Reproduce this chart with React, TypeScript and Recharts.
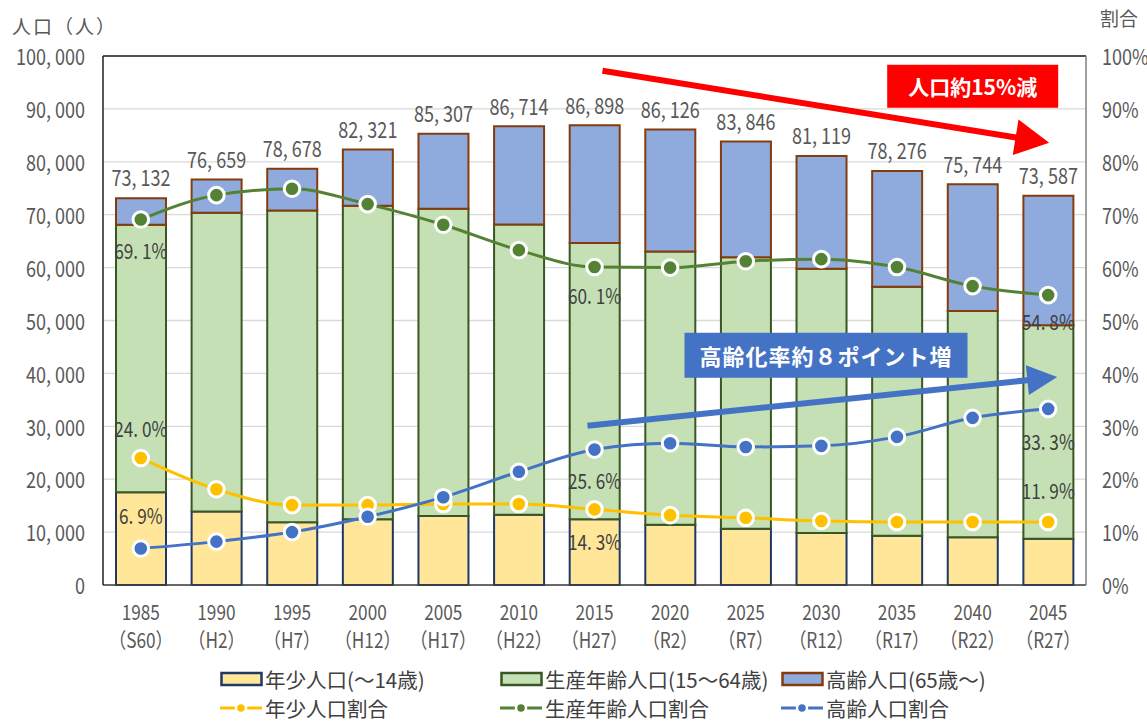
import React from 'react';
import { ComposedChart, Bar, Line, XAxis, YAxis, CartesianGrid, Legend, LabelList, ReferenceLine } from 'recharts';

const years = ['1985', '1990', '1995', '2000', '2005', '2010', '2015', '2020', '2025', '2030', '2035', '2040', '2045'];
const eras = ['（S60）', '（H2）', '（H7）', '（H12）', '（H17）', '（H22）', '（H27）', '（R2）', '（R7）', '（R12）', '（R17）', '（R22）', '（R27）'];

// 人口（人）
const totalPop = [73132, 76659, 78678, 82321, 85307, 86714, 86898, 86126, 83846, 81119, 78276, 75744, 73587];
const youngPop = [17552, 13875, 11880, 12430, 13052, 13267, 12426, 11369, 10648, 9815, 9315, 9014, 8757];
const workingPop = [50534, 56498, 58930, 59271, 58094, 54890, 52226, 51676, 51314, 49969, 47044, 42795, 40326];
const elderlyPop = [5046, 6286, 7868, 10620, 14161, 18557, 22246, 23081, 21884, 21335, 21917, 23935, 24504];

// 割合（%）
const youngRate = [24.0, 18.1, 15.1, 15.1, 15.3, 15.3, 14.3, 13.2, 12.7, 12.1, 11.9, 11.9, 11.9];
const workingRate = [69.1, 73.7, 74.9, 72.0, 68.1, 63.3, 60.1, 60.0, 61.2, 61.6, 60.1, 56.5, 54.8];
const elderlyRate = [6.9, 8.2, 10.0, 12.9, 16.6, 21.4, 25.6, 26.8, 26.1, 26.3, 28.0, 31.6, 33.3];

const leftTicks = [0, 10000, 20000, 30000, 40000, 50000, 60000, 70000, 80000, 90000, 100000];
const rightTicks = [0, 10, 20, 30, 40, 50, 60, 70, 80, 90, 100];
const labeledIdx = [0, 6, 12];

const data = years.map((year, i) => ({
  year,
  young: youngPop[i],
  working: workingPop[i],
  elderly: elderlyPop[i],
  youngRate: youngRate[i],
  workingRate: workingRate[i],
  elderlyRate: elderlyRate[i],
}));

const JP_FONT = "'Noto Sans CJK JP', sans-serif";

const C = {
  youngFill: '#FFE699', youngStroke: '#203864',
  workFill: '#C5E0B4', workStroke: '#385723',
  oldFill: '#8FAADC', oldStroke: '#843C0C',
  youngLine: '#FFC000', workLine: '#548235', oldLine: '#4472C4',
};

const fmtNum = (v: number) => v.toLocaleString('en-US').replace(',', ', ');
const fmtPct = (v: number) => v.toFixed(1).replace('.', '. ') + '%';

// condensed-looking text (the original uses a narrow Japanese UI font)
const NarrowText = ({ x, y, anchor = 'middle', size = 22, fill = '#595959', children }: any) => (
  <text transform={`translate(${x},${y}) scale(0.82,1)`} x={0} y={0} textAnchor={anchor}
    dominantBaseline="central" fill={fill} fontFamily={JP_FONT} fontSize={size}>
    {children}
  </text>
);

const XTick = (props: any) => {
  const { x, y, payload } = props;
  const i = years.indexOf(payload.value);
  return (
    <g>
      <NarrowText x={x} y={y + 26} size={21}>{payload.value}</NarrowText>
      <NarrowText x={x} y={y + 54} size={21}>{eras[i]}</NarrowText>
    </g>
  );
};

const YTickLeft = (props: any) => (
  <NarrowText x={props.x} y={props.y} anchor="end">{fmtNum(props.payload.value)}</NarrowText>
);
const YTickRight = (props: any) => (
  <NarrowText x={props.x} y={props.y} anchor="start">{`${props.payload.value}%`}</NarrowText>
);

const totalLabel = (props: any) => {
  const { x, y, width, index } = props;
  return <NarrowText x={x + width / 2} y={y - 21}>{fmtNum(totalPop[index])}</NarrowText>;
};

const rateLabel = (offsets: number[]) => (props: any) => {
  const { x, y, index, value } = props;
  const k = labeledIdx.indexOf(index);
  if (k < 0) return null;
  return <NarrowText x={x} y={y + offsets[k]} size={21} fill="#404040">{fmtPct(value)}</NarrowText>;
};

const arrowShape = (color: string, width: number, headLen: number, headHalf: number, dx1: number, dx2: number,
  box: { dx: number; dy: number; w: number; h: number; text: string; size: number; spacing: number }) => (props: any) => {
  const x1 = props.x1 + dx1;
  const y1 = props.y1;
  const x2 = props.x2 + dx2;
  const y2 = props.y2;
  const len = Math.hypot(x2 - x1, y2 - y1);
  const ux = (x2 - x1) / len;
  const uy = (y2 - y1) / len;
  const bx = x2 - ux * headLen;
  const by = y2 - uy * headLen;
  const pts = `${x2},${y2} ${bx - uy * headHalf},${by + ux * headHalf} ${bx + uy * headHalf},${by - ux * headHalf}`;
  const rx = (box.dx < 0 ? x2 : x1) + box.dx;
  const ry = (box.dx < 0 ? y2 : y1) + box.dy;
  return (
    <g>
      <line x1={x1} y1={y1} x2={bx + ux * 2} y2={by + uy * 2} stroke={color} strokeWidth={width} />
      <polygon points={pts} fill={color} />
      <rect x={rx} y={ry} width={box.w} height={box.h} fill={color} />
      <text x={rx + box.w / 2} y={ry + box.h / 2} textAnchor="middle" dominantBaseline="central"
        fill="#fff" fontWeight="bold" fontFamily={JP_FONT} fontSize={box.size} letterSpacing={box.spacing}>
        {box.text}
      </text>
    </g>
  );
};

const legendRows = [
  [
    { name: '年少人口(～14歳)', type: 'bar', fill: C.youngFill, stroke: C.youngStroke, left: 220 },
    { name: '生産年齢人口(15～64歳)', type: 'bar', fill: C.workFill, stroke: C.workStroke, left: 500 },
    { name: '高齢人口(65歳～)', type: 'bar', fill: C.oldFill, stroke: C.oldStroke, left: 781 },
  ],
  [
    { name: '年少人口割合', type: 'line', fill: C.youngLine, stroke: C.youngLine, left: 220 },
    { name: '生産年齢人口割合', type: 'line', fill: C.workLine, stroke: C.workLine, left: 500 },
    { name: '高齢人口割合', type: 'line', fill: C.oldLine, stroke: C.oldLine, left: 781 },
  ],
];

const LegendContent = () => (
  <div style={{ position: 'relative', width: 1147, height: 55, fontFamily: JP_FONT, fontSize: 20.5, color: '#404040', lineHeight: '26px' }}>
    {legendRows.map((row, r) =>
      row.map((item) => (
        <div key={item.name} style={{ position: 'absolute', left: item.left, top: r * 29, height: 26, display: 'flex', alignItems: 'center', whiteSpace: 'nowrap' }}>
          <svg width={44} height={20} style={{ marginRight: 1 }}>
            {item.type === 'bar' ? (
              <rect x={1.5} y={4} width={40} height={12} fill={item.fill} stroke={item.stroke} strokeWidth={2.5} />
            ) : (
              <g>
                <line x1={0} y1={10} x2={42} y2={10} stroke={item.stroke} strokeWidth={3} />
                <circle cx={21} cy={10} r={5} fill={item.fill} stroke="#fff" strokeWidth={2.5} />
              </g>
            )}
          </svg>
          <span>{item.name}</span>
        </div>
      ))
    )}
  </div>
);

export default function App() {
  return (
    <div style={{ position: 'absolute', left: 0, top: 0, width: 1147, height: 722, background: '#fff' }}>
      <ComposedChart width={1147} height={722} data={data} margin={{ top: 56, right: 0, left: 13, bottom: 77 }}>
        <CartesianGrid vertical={false} stroke="#d9d9d9" strokeWidth={1.3} yAxisId="left" />
        <XAxis dataKey="year" tick={<XTick />} tickLine={false} tickSize={0} tickMargin={0} height={60}
          axisLine={{ stroke: '#404040', strokeWidth: 1.5 }} interval={0} />
        <YAxis yAxisId="left" domain={[0, 100000]} ticks={leftTicks} width={90} tickLine={false} tickMargin={12}
          axisLine={{ stroke: '#202020', strokeWidth: 1.5 }} tick={<YTickLeft />}
          label={{
            content: () => (
              <text x={12} y={34} fill="#595959" fontFamily={JP_FONT} fontSize={19} letterSpacing={2}>人口（人）</text>
            ),
          }} />
        <YAxis yAxisId="right" orientation="right" domain={[0, 100]} ticks={rightTicks} width={61} tickLine={false} tickMargin={10}
          axisLine={{ stroke: '#7f7f7f', strokeWidth: 1.5 }} tick={<YTickRight />}
          label={{
            content: () => (
              <text x={1100} y={26} fill="#595959" fontFamily={JP_FONT} fontSize={19}>割合</text>
            ),
          }} />
        <ReferenceLine yAxisId="left" y={100000} stroke="#202020" strokeWidth={1.5} />
        <Legend layout="horizontal" verticalAlign="middle" align="center" content={<LegendContent />}
          wrapperStyle={{ top: 666, left: 0, width: 1147, height: 55 }} />

        <Bar yAxisId="left" dataKey="young" stackId="pop" barSize={50} fill={C.youngFill} stroke={C.youngStroke} strokeWidth={2} isAnimationActive={false} />
        <Bar yAxisId="left" dataKey="working" stackId="pop" barSize={50} fill={C.workFill} stroke={C.workStroke} strokeWidth={2} isAnimationActive={false} />
        <Bar yAxisId="left" dataKey="elderly" stackId="pop" barSize={50} fill={C.oldFill} stroke={C.oldStroke} strokeWidth={2} isAnimationActive={false}>
          <LabelList dataKey="elderly" content={totalLabel} />
        </Bar>

        <Line yAxisId="right" dataKey="youngRate" type="monotone" stroke={C.youngLine} strokeWidth={3}
          dot={{ r: 7.8, fill: C.youngLine, stroke: '#fff', strokeWidth: 3 }} isAnimationActive={false}>
          <LabelList dataKey="youngRate" content={rateLabel([-30, 32, -32])} />
        </Line>
        <Line yAxisId="right" dataKey="workingRate" type="monotone" stroke={C.workLine} strokeWidth={3}
          dot={{ r: 7.8, fill: C.workLine, stroke: '#fff', strokeWidth: 3 }} isAnimationActive={false}>
          <LabelList dataKey="workingRate" content={rateLabel([31, 28, 26])} />
        </Line>
        <Line yAxisId="right" dataKey="elderlyRate" type="monotone" stroke={C.oldLine} strokeWidth={3}
          dot={{ r: 7.8, fill: C.oldLine, stroke: '#fff', strokeWidth: 3 }} isAnimationActive={false}>
          <LabelList dataKey="elderlyRate" content={rateLabel([-33, 31, 32])} />
        </Line>

        <ReferenceLine yAxisId="right" segment={[{ x: '2015', y: 97.2 }, { x: '2045', y: 83.6 }]} ifOverflow="visible"
          shape={arrowShape('#FF0000', 6, 34, 18, 8, 1, { dx: -162, dy: -78, w: 171, h: 43, text: '人口約15%減', size: 21, spacing: 0 })} />
        <ReferenceLine yAxisId="right" segment={[{ x: '2015', y: 30.1 }, { x: '2045', y: 39.3 }]} ifOverflow="visible"
          shape={arrowShape('#4472C4', 6, 30, 15, -7, 9, { dx: 97, dy: -93, w: 283, h: 45, text: '高齢化率約８ポイント増', size: 22, spacing: 1 })} />
      </ComposedChart>
    </div>
  );
}
